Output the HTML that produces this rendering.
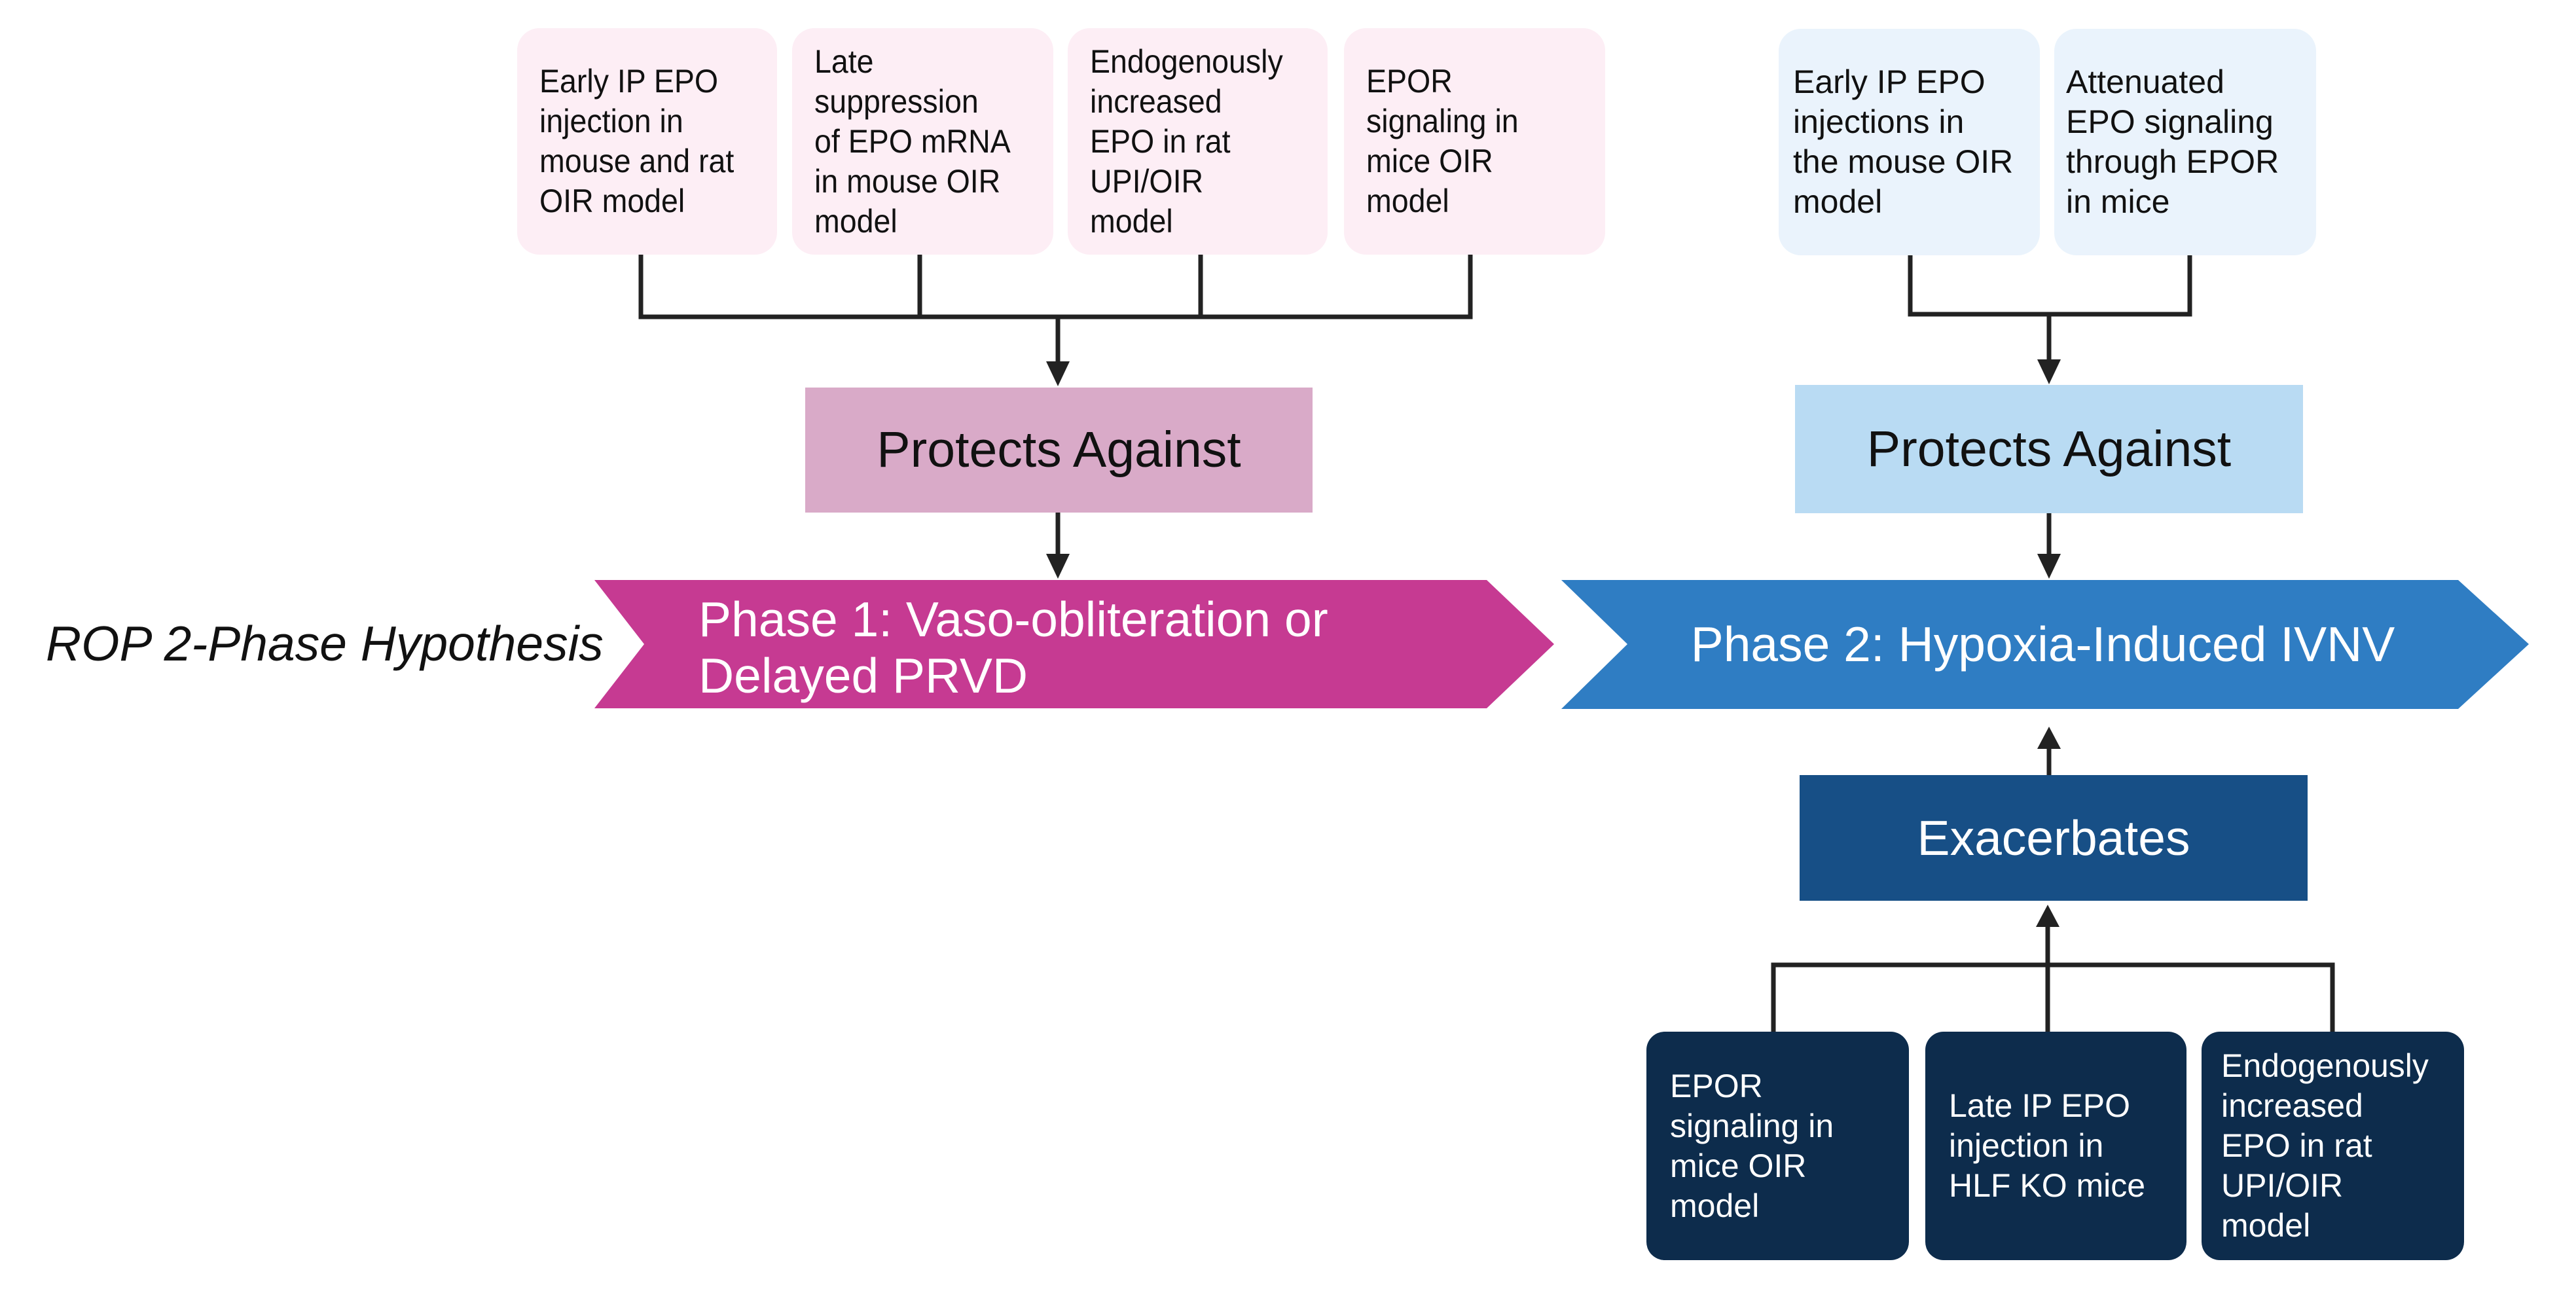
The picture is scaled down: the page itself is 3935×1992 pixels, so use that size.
<!DOCTYPE html>
<html><head><meta charset="utf-8"><style>
body{margin:0;width:3935px;height:1992px;background:#fff;position:relative;overflow:hidden;font-family:"Liberation Sans",sans-serif}
.b{position:absolute;box-sizing:border-box;border-radius:34px;font-size:50px;line-height:61px;color:#111}
.p{background:#fdeef5;padding-left:34px;display:flex;align-items:center}
.p span{display:block;transform:scaleX(0.93);transform-origin:left center;white-space:nowrap}
.l{background:#eaf3fc;padding-left:22px;display:flex;align-items:center}
.d{background:#0d2c4c;color:#fff;padding-left:36px;display:flex;align-items:center;border-radius:28px}
.r{position:absolute;display:flex;align-items:center;justify-content:center;font-size:77px}
.t{position:absolute;color:#fff;font-size:75px;line-height:86px;white-space:nowrap}
</style></head><body>
<svg width="3935" height="1992" style="position:absolute;left:0;top:0">
<g stroke="#222" stroke-width="7" fill="none">
<polyline points="979,389 979,484 2246,484 2246,389"/>
<line x1="1405" y1="389" x2="1405" y2="484"/>
<line x1="1834" y1="389" x2="1834" y2="484"/>
<line x1="1616" y1="484" x2="1616" y2="555"/>
<line x1="1616" y1="783" x2="1616" y2="850"/>
<polyline points="2918,390 2918,480 3345,480 3345,390"/>
<line x1="3130" y1="480" x2="3130" y2="552"/>
<line x1="3130" y1="784" x2="3130" y2="850"/>
<line x1="3130" y1="1184" x2="3130" y2="1140"/>
<polyline points="2709,1576 2709,1474 3563,1474 3563,1576"/>
<line x1="3128" y1="1576" x2="3128" y2="1412"/>
</g>
<g fill="#222">
<polygon points="1598,552 1634,552 1616,590"/>
<polygon points="1598,846 1634,846 1616,884"/>
<polygon points="3112,549 3148,549 3130,587"/>
<polygon points="3112,846 3148,846 3130,884"/>
<polygon points="3112,1144 3148,1144 3130,1110"/>
<polygon points="3110,1416 3146,1416 3128,1382"/>
</g>
<polygon points="908,886 2271,886 2374,984 2271,1082 908,1082 984,984" fill="#c63a92"/>
<polygon points="2385,886 3755,886 3863,984 3755,1083 2385,1083 2486,984" fill="#2f7dc3"/>
</svg>
<div class="b p" style="left:790px;top:43px;width:397px;height:346px"><span>Early IP EPO<br>injection in<br>mouse and rat<br>OIR model</span></div>
<div class="b p" style="left:1210px;top:43px;width:399px;height:346px"><span>Late<br>suppression<br>of EPO mRNA<br>in mouse OIR<br>model</span></div>
<div class="b p" style="left:1631px;top:43px;width:397px;height:346px"><span>Endogenously<br>increased<br>EPO in rat<br>UPI/OIR<br>model</span></div>
<div class="b p" style="left:2053px;top:43px;width:399px;height:346px"><span>EPOR<br>signaling in<br>mice OIR<br>model</span></div>
<div class="b l" style="left:2717px;top:44px;width:399px;height:346px"><span>Early IP EPO<br>injections in<br>the mouse OIR<br>model</span></div>
<div class="b l" style="left:3138px;top:44px;width:400px;height:346px;padding-left:18px"><span>Attenuated<br>EPO signaling<br>through EPOR<br>in mice</span></div>
<div class="r" style="left:1230px;top:592px;width:775px;height:191px;background:#d9aac8;color:#111">Protects Against</div>
<div class="r" style="left:2742px;top:588px;width:776px;height:196px;background:#b9dbf3;color:#111">Protects Against</div>
<div class="r" style="left:2749px;top:1184px;width:776px;height:192px;background:#174f86;color:#fff;font-size:75px">Exacerbates</div>
<div style="position:absolute;left:70px;top:940px;font-size:75px;font-style:italic;color:#111;white-space:nowrap">ROP 2-Phase Hypothesis</div>
<div class="t" style="left:1067px;top:903px">Phase 1: Vaso-obliteration or<br>Delayed PRVD</div>
<div class="t" style="left:2486px;top:941px;width:1269px;text-align:center">Phase 2: Hypoxia-Induced IVNV</div>
<div class="b d" style="left:2515px;top:1576px;width:401px;height:349px"><span>EPOR<br>signaling in<br>mice OIR<br>model</span></div>
<div class="b d" style="left:2941px;top:1576px;width:399px;height:349px"><span>Late IP EPO<br>injection in<br>HLF KO mice</span></div>
<div class="b d" style="left:3363px;top:1576px;width:401px;height:349px;padding-left:30px"><span>Endogenously<br>increased<br>EPO in rat<br>UPI/OIR<br>model</span></div>
</body></html>
